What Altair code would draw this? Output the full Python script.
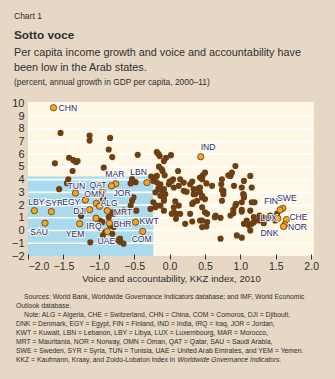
import altair as alt
import pandas as pd

# ---------------- data ----------------
label_codes = ["CHN", "IND", "SWE", "FIN", "CHE", "NOR", "DNK", "LUX",
               "LBY", "SYR", "SAU", "TUN", "EGY", "OMN", "QAT", "MAR", "JOR", "LBN",
               "DJI", "ALG", "MRT", "IRQ", "BHR", "KWT", "YEM", "UAE", "COM"]
label_x = [-1.64, 0.44, 1.60, 1.56, 1.65, 1.63, 1.61, 1.53,
           -1.91, -1.67, -1.76, -1.33, -1.19, -1.035, -0.955, -0.76, -0.82, -0.32,
           -1.13, -0.99, -0.88, -1.04, -0.85, -0.48, -1.27, -0.88, -0.38]
label_y = [9.65, 5.80, 1.75, 1.62, 0.86, 0.47, 0.32, 0.95,
           1.56, 1.49, 0.58, 2.94, 2.40, 2.14, 3.04, 3.67, 3.51, 3.77,
           1.64, 1.91, 1.56, 0.97, 0.58, 0.66, 0.53, -0.07, -0.07]

brown_x = [-1.54, -1.13, -1.13, -0.84, -0.86, -0.81, -1.62, -1.42, -1.36, -1.32, -1.30, -1.37,
           -0.93, -1.43, -1.56, -1.45, -0.45, -0.53, -0.48, -0.55, -0.26, -0.23, -0.20, -0.18,
           -0.18, -0.14, -0.08, -0.05, -0.16, 0.02, -0.15, -0.10, -0.07, -0.11, 0.12, 0.15, 0.05, 0.00,
           -0.18, -0.14, -0.20, -0.16, -0.11, -0.13, -0.06, -0.13, -0.08, -0.01, 0.06, 0.03, 0.13, 0.20,
           0.20, 0.24, 0.29, 0.34, 0.32,
           0.43, 0.50, 0.47, 0.46, 0.52, 0.60, 0.41, 0.43, 0.46, 0.50, 0.36, 0.73, 0.76, 0.83, 0.88,
           0.93, 0.91, 1.05, 1.14, 1.16, 1.04, 1.05, 1.20, 0.94, 0.74, 0.74, 1.02, 0.93, 0.90, 1.02,
           0.74, 0.53, 0.65, 0.72, 0.86, 0.90, 1.09, 1.05, 1.12, 1.19, 1.19, 1.14, 1.26, 1.31, 1.33,
           1.38, 1.42, 1.47, 1.49, 1.52, 0.46, 0.46, 0.52, 0.72, 0.95, 1.02, 0.32, 0.53, 0.64, 0.09,
           0.06, 0.13, 0.15, 0.08, 0.50, 0.34, 0.34, 0.46, 0.43, 0.76, 0.86, 1.02, 1.05, 1.16, 1.14,
           1.02, 1.27, 1.16, -0.08,
           -0.51, -0.53, -0.55, -0.65, -0.27, -0.20, -0.13, -0.08, -0.08, 0.03, 0.10, 0.06, 0.32, 0.39,
           0.46, 0.29, 0.43, 0.22, -0.70, -0.65, -0.47, -0.23, -0.18,
           -1.25, -1.12, -0.98, -0.94, -0.91, -0.81, -0.86, -0.70, -0.94, -0.79, -0.84, -0.73, -0.81,
           -0.79, -0.95]
brown_y = [7.67, 7.46, 7.07, 7.28, 6.37, 5.77, 5.28, 5.72, 5.53, 5.38, 5.46, 4.68,
           4.94, 4.03, 3.25, 3.72, 5.95, 4.05, 3.80, 3.70, 4.24, 3.90, 4.21, 4.29,
           6.16, 5.85, 5.46, 5.72, 6.03, 5.92, 5.02, 4.68, 4.34, 4.81, 4.68, 4.03, 4.03, 3.85,
           3.77, 3.25, 3.00, 3.30, 3.12, 2.73, 2.86, 3.64, 3.25, 3.64, 3.38, 3.90, 3.51, 3.77,
           3.12, 3.04, 3.64, 3.25, 3.85,
           4.16, 4.55, 4.34, 4.03, 3.70, 3.51, 3.31, 3.00, 2.73, 2.47, 2.86, 3.64, 3.12, 4.34, 4.55,
           5.07, 3.51, 3.90, 4.29, 3.38, 2.86, 2.60, 2.22, 2.09, 4.03, 3.18, 2.22, 1.96, 1.62, 1.62,
           2.34, 1.31, 1.18, 1.00, 1.18, 1.36, 0.79, 0.53, 0.40, 1.05, 0.66, 0.01, 0.79, 1.05, 0.58,
           0.92, 1.18, 1.05, 0.79, 1.31, 0.79, 0.27, 0.32, -0.64, -0.38, -0.56, 0.71, 0.66, 1.05, 0.92,
           1.44, 1.96, 1.31, 2.30, 1.44, 2.22, 2.86, 2.60, 3.38, 2.86, 4.29, 3.38, 2.78, 2.22, 1.56,
           1.49, 1.18, 0.53, 2.47,
           2.60, 2.34, 1.96, 1.56, 1.70, 1.83, 1.96, 2.34, 1.56, 1.31, 1.31, 1.83, 2.09, 2.34,
           1.83, 1.31, 0.79, 0.53, -0.89, -1.03, 1.56, 2.22, 1.96,
           1.15, -0.92, 0.79, -0.38, -0.12, -0.25, 1.05, -0.64, 2.47, 1.31, 0.40, -0.77, 1.44,
           0.27, 0.66]

shade_x = [-2.0, -0.23]
shade_y = [-2.0, 4.25]
grid_y = [-1, 0, 1, 2, 3, 4, 5, 6, 7, 8, 9]
x_ticks = [-2.0, -1.5, -1.0, -0.5, 0.0, 0.5, 1.0, 1.5, 2.0]
y_ticks = [-2, -1, 0, 1, 2, 3, 4, 5, 6, 7, 8, 9, 10]

header_lines = ["Chart 1", "Sotto voce",
                "Per capita income growth and voice and accountability have",
                "been low in the Arab states.",
                "(percent, annual growth in GDP per capita, 2000\u201311)"]
note_lines = [
    "Sources: World Bank, Worldwide Governance Indicators database; and IMF, World Economic",
    "Outlook database.",
    "Note: ALG = Algeria, CHE = Switzerland, CHN = China, COM = Comoros, DJI = Djibouti,",
    "DNK = Denmark, EGY = Egypt, FIN = Finland, IND = India, IRQ = Iraq, JOR = Jordan,",
    "KWT = Kuwait, LBN = Lebanon, LBY = Libya, LUX = Luxembourg, MAR = Morocco,",
    "MRT = Mauritania, NOR = Norway, OMN = Oman, QAT = Qatar, SAU = Saudi Arabia,",
    "SWE = Sweden, SYR = Syria, TUN = Tunisia, UAE = United Arab Emirates, and YEM = Yemen.",
    "KKZ = Kaufmann, Kraay, and Zoido-Lobaton index in ",
]
note_italic = "Worldwide Governance Indicators."
x_title = "Voice and accountability, KKZ index, 2010"

# ---------------- styles ----------------
FONT = "Liberation Sans, Arial, sans-serif"
BG = "#E6D8C4"
PLOT_BG = "#FFF8E6"
BLUE = "#A9DAEE"
BROWN = "#6E3F12"
ORANGE = "#F6A623"
TXT = "#2f2f2f"
LAB = "#2E2B5C"
W, H = 286, 154
PAD_L, PAD_T = 28, 102
LAB_SIZE = 8.6

# label placement: (align, dx, dy)
placement = {
    "CHN": ("left", 5, 0), "IND": ("left", 0, -10), "SWE": ("center", 4, -10),
    "FIN": ("right", -2, -9), "CHE": ("left", 3, -2.5), "NOR": ("left", 3, 2.5),
    "DNK": ("right", -5, 6.5), "LUX": ("right", -1, -0.5),
    "LBY": ("center", 2, -8.5), "SYR": ("center", 3, -9), "SAU": ("center", -6, 9),
    "TUN": ("center", 1, -7), "EGY": ("right", -5, 2), "OMN": ("center", -2, -9),
    "QAT": ("center", -4, -7), "MAR": ("center", -1, -10), "JOR": ("left", 2, 7),
    "LBN": ("right", 0, -10.5), "DJI": ("right", -3.5, 1.5), "ALG": ("left", 1, -3.5),
    "MRT": ("left", 6.5, 1.3), "IRQ": ("center", -2, 7.7), "BHR": ("left", 4, 1.2),
    "KWT": ("left", 4, -1), "YEM": ("center", -4.5, 10), "UAE": ("center", -1, 9.5),
    "COM": ("center", -1, 8),
}

lab_df = pd.DataFrame({"code": label_codes, "x": label_x, "y": label_y})
brown_df = pd.DataFrame({"x": brown_x, "y": brown_y})
shade_df = pd.DataFrame({"x": [shade_x[0]], "x2": [shade_x[1]], "y": [shade_y[0]], "y2": [shade_y[1]]})
grid_df = pd.DataFrame({"y": grid_y})

xs = alt.Scale(domain=[-2.0, 2.04], nice=False, zero=False)
ys = alt.Scale(domain=[-2.0, 10.1], nice=False, zero=False)

x_axis = alt.Axis(values=x_ticks, format=".1f", title=x_title, grid=False, domain=False,
                  tickSize=5, tickColor=TXT, tickWidth=1, offset=-2, labelPadding=2,
                  labelFontSize=10.5, labelColor=TXT, labelFont=FONT, titleFont=FONT,
                  labelOverlap=False,
                  titleFontSize=9.6, titleFontWeight="normal", titleColor=TXT,
                  titlePadding=2, zindex=1)
y_axis = alt.Axis(values=y_ticks, format="d", title=None, grid=False, domain=False,
                  ticks=False, labelPadding=4, labelFontSize=11, labelColor=TXT,
                  labelFont=FONT, labelOverlap=False, labelSeparation=0)


def X():
    return alt.X("x:Q", scale=xs, axis=x_axis)


def Y():
    return alt.Y("y:Q", scale=ys, axis=y_axis)


shade = alt.Chart(shade_df).mark_rect(color=BLUE).encode(x=X(), x2="x2:Q", y=Y(), y2="y2:Q")

grid = alt.Chart(grid_df).mark_rule(color="white", strokeWidth=1.6).encode(y=Y())

brown = alt.Chart(brown_df).mark_circle(color=BROWN, size=38, opacity=1).encode(x=X(), y=Y())

orange = alt.Chart(lab_df).mark_point(filled=True, shape="circle", fill=ORANGE, stroke="#5a3a10",
                                      strokeWidth=0.8, size=40, opacity=1).encode(x=X(), y=Y())

layers = [shade, grid, brown, orange]

for code in label_codes:
    align, dx, dy = placement[code]
    base = alt.Chart(lab_df).transform_filter(alt.datum.code == code)
    for halo in (True, False):
        kw = dict(align=align, baseline="middle", dx=dx, dy=dy, font=FONT, fontSize=LAB_SIZE)
        if halo:
            kw.update(stroke="white", strokeWidth=2, strokeOpacity=0.8, fill="white")
        else:
            kw.update(fill=LAB)
        layers.append(base.mark_text(**kw).encode(x=X(), y=Y(), text="code:N"))

one = pd.DataFrame({"a": [0]})


def txt(s, ax, ay, size, weight="normal", style="normal"):
    return alt.Chart(one).mark_text(text=s, align="left", baseline="alphabetic", font=FONT,
                                    fontSize=size, fontWeight=weight, fontStyle=style,
                                    color=TXT).encode(
        x=alt.value(ax - PAD_L), y=alt.value(ay - PAD_T))


layers += [
    txt(header_lines[0], 14, 18.5, 8.5),
    txt(header_lines[1], 14, 39, 11.8, weight="bold"),
    txt(header_lines[2], 14, 55.5, 10.8),
    txt(header_lines[3], 14, 71, 10.8),
    txt(header_lines[4], 14, 85, 8.4),
]
NOTE_SIZE = 6.8
note_x = [24, 16, 24, 16, 16, 16, 16, 16]
note_base = [299, 308, 317, 326, 335, 344, 353, 362]
for s, nx, ny in zip(note_lines, note_x, note_base):
    layers.append(txt(s, nx, ny, NOTE_SIZE))
layers.append(txt(note_italic, 177.5, 362, NOTE_SIZE, style="italic"))

chart = alt.layer(*layers).properties(
    width=W, height=H,
    autosize=alt.AutoSizeParams(type="none"),
    padding={"left": PAD_L, "top": PAD_T, "right": 335 - PAD_L - W, "bottom": 379 - PAD_T - H},
    background=BG,
).configure_view(fill=PLOT_BG, strokeWidth=0).configure_axisY(labelOverlap=False)

chart.save("out.html", embed_options={"renderer": "svg", "actions": False})
